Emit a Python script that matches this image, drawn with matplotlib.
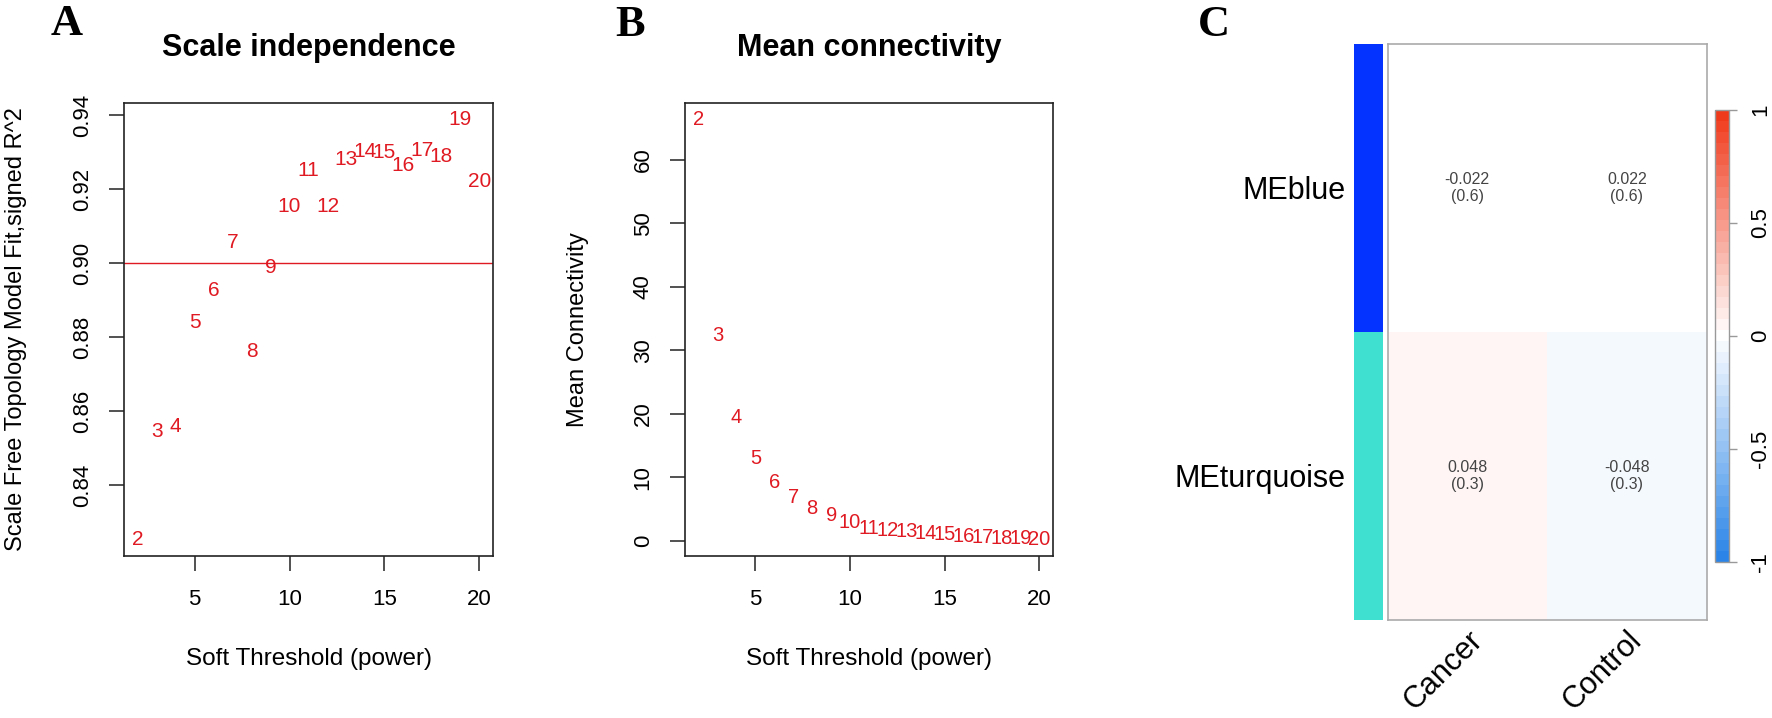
import numpy as np
import matplotlib
matplotlib.use("Agg")
import matplotlib.pyplot as plt
from matplotlib.colors import LinearSegmentedColormap, ListedColormap

plt.rcParams['font.family'] = ['Liberation Sans', 'DejaVu Sans']

# soft-threshold powers
powers = [2, 3, 4, 5, 6, 7, 8, 9, 10, 11, 12, 13, 14, 15, 16, 17, 18, 19, 20]

# A: scale free topology fit (signed R^2)
sft_r2 = [0.8255, 0.8547, 0.8559, 0.8839, 0.8926, 0.9057, 0.8762, 0.8987, 0.9153,
          0.9249, 0.9153, 0.9279, 0.9301, 0.9299, 0.9264, 0.9304, 0.9287, 0.9387, 0.9221]
r2_cut = 0.90

# B: mean connectivity
mean_k = [66.3, 32.4, 19.4, 13.0, 9.2, 6.85, 5.1, 4.05, 2.95, 2.0, 1.7, 1.5, 1.2,
          0.95, 0.74, 0.58, 0.43, 0.31, 0.27]

# C: module-trait correlation
modules = ['MEblue', 'MEturquoise']
module_colors = ['#0433FF', '#40E0D0']
traits = ['Cancer', 'Control']
cor_vals = [[-0.022, 0.022],
            [0.048, -0.048]]
p_vals = [['0.6', '0.6'],
          ['0.3', '0.3']]

W, H = 1772, 718
fig = plt.figure(figsize=(W / 100, H / 100), dpi=100)

def px(x0, y0, x1, y1):
    # pixel box -> figure fraction rect
    return [x0 / W, 1 - y1 / H, (x1 - x0) / W, (y1 - y0) / H]

red = '#E01A22'

def style_axes(ax, title, ylabel):
    for s in ax.spines.values():
        s.set_linewidth(1.2)
        s.set_color('#222222')
    ax.tick_params(direction='out', length=10.5, width=1.1, labelsize=16, color='#222222')
    ax.tick_params(axis='x', pad=13)
    ax.tick_params(axis='y', pad=12, labelrotation=90)
    for lab in ax.get_yticklabels():
        lab.set_va('center')
    ax.set_xticks([5, 10, 15, 20])
    ax.set_xlabel('Soft Threshold (power)', fontsize=17.5)
    ax.xaxis.set_label_coords(0.5, -0.203)
    ax.set_ylabel(ylabel, fontsize=17)
    ax.yaxis.set_label_coords(-0.262, 0.5)
    ax.text(0.5, 1.122, title, transform=ax.transAxes, ha='center', va='center',
            fontsize=22, fontweight='bold')

# ---- panel A
axA = fig.add_axes(px(124, 103, 493, 556))
axA.plot(powers, sft_r2, linestyle='none')
axA.margins(0.04)
for p, v in zip(powers, sft_r2):
    axA.text(p, v, str(p), color=red, fontsize=15, ha='center', va='center')
axA.axhline(r2_cut, color=red, lw=1.0)
axA.set_yticks([0.84, 0.86, 0.88, 0.90, 0.92, 0.94])
axA.set_yticklabels(['%.2f' % t for t in [0.84, 0.86, 0.88, 0.90, 0.92, 0.94]])
style_axes(axA, 'Scale independence', 'Scale Free Topology Model Fit,signed R^2')

# ---- panel B
axB = fig.add_axes(px(685, 103, 1053, 556))
axB.plot(powers, mean_k, linestyle='none')
axB.margins(0.04)
for p, v in zip(powers, mean_k):
    axB.text(p, v, str(p), color=red, fontsize=14.5, ha='center', va='center')
axB.set_yticks([0, 10, 20, 30, 40, 50, 60])
axB.set_yticklabels([str(t) for t in [0, 10, 20, 30, 40, 50, 60]])
style_axes(axB, 'Mean connectivity', 'Mean Connectivity')

# ---- panel C
# binned blue-white-red scale (small values fall in the white bin)
cmap = LinearSegmentedColormap.from_list('bwr2', ['#2B85E8', '#FFFFFF', '#F03A1C'], N=41)

axS = fig.add_axes(px(1354, 43.8, 1383, 620))
axS.pcolormesh(np.array([[0], [1]]), cmap=ListedColormap(module_colors), vmin=0, vmax=1)
axS.set_xlim(0, 1)
axS.set_ylim(2, 0)
for s in axS.spines.values():
    s.set_visible(False)
axS.set_xticks([])
axS.set_yticks([0.5, 1.5])
axS.set_yticklabels(modules, fontsize=22)
axS.tick_params(axis='y', length=0, pad=6)

axC = fig.add_axes(px(1387.5, 43.8, 1706.7, 620))
mesh = axC.pcolormesh(np.array(cor_vals), cmap=cmap, vmin=-1, vmax=1)
axC.set_xlim(0, 2)
axC.set_ylim(2, 0)
for i in range(len(modules)):
    for j in range(len(traits)):
        axC.text(j + 0.5, i + 0.5, '%.3f\n(%s)' % (cor_vals[i][j], p_vals[i][j]),
                 ha='center', va='center', fontsize=11.5, color='#444444', linespacing=1.15)
for s in axC.spines.values():
    s.set_color('#AAAAAA')
    s.set_linewidth(1.2)
axC.set_yticks([])
axC.set_xticks([0.5, 1.5])
axC.set_xticklabels(traits, fontsize=22, rotation=45, ha='right', rotation_mode='anchor')
axC.tick_params(axis='x', length=0, pad=4)

cax = fig.add_axes(px(1715, 110, 1729.3, 561.7))
cb = fig.colorbar(mesh, cax=cax, ticks=[-1, -0.5, 0, 0.5, 1])
cb.outline.set_edgecolor('#999999')
cb.outline.set_linewidth(1.0)
cb.ax.set_yticklabels(['-1', '-0.5', '0', '0.5', '1'])
cb.ax.tick_params(length=6, width=1, color='#999999', labelsize=16, pad=9)
for lab in cb.ax.get_yticklabels():
    lab.set_rotation(90)
    lab.set_va('center')

# panel letters
for xl, yl, letter in [(66.7, 24, 'A'), (630, 25, 'B'), (1213.6, 25, 'C')]:
    fig.text(xl / W, 1 - yl / H, letter, fontsize=32, fontweight='bold',
             family='Liberation Serif', ha='center', va='center')

fig.savefig('out.png', dpi=100)
